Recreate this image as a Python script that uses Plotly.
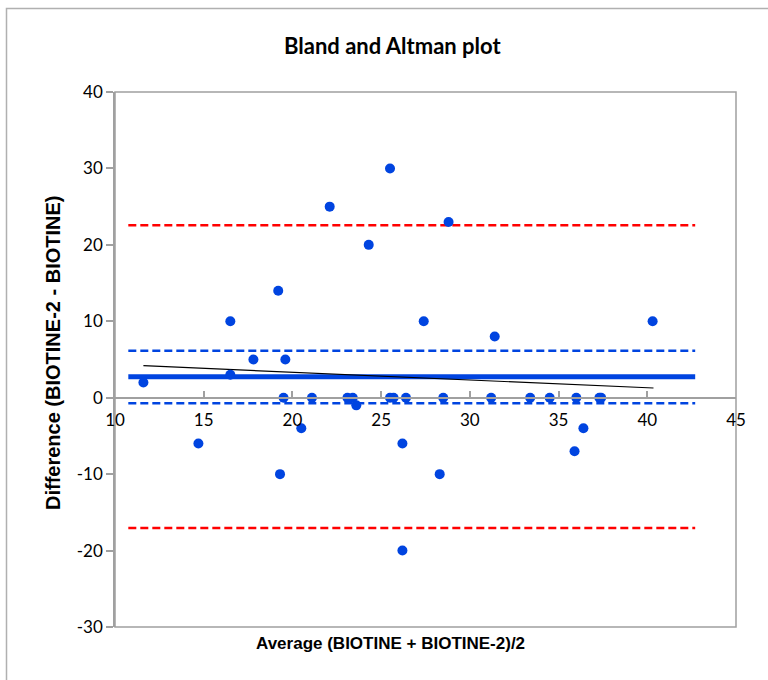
import plotly.graph_objects as go

# ---- data ----
avg_vals = [11.6, 14.7, 16.5, 16.5, 17.8, 19.2, 19.3, 19.5, 19.6, 20.5, 21.1, 22.1,
            23.1, 23.4, 23.6, 24.3, 25.5, 25.5, 25.7, 26.2, 26.2, 26.4, 27.4, 28.3,
            28.5, 28.8, 31.2, 31.4, 33.4, 34.5, 35.9, 36.0, 36.4, 37.3, 37.4, 40.3]
diff_vals = [2, -6, 10, 3, 5, 14, -10, 0, 5, -4, 0, 25,
             0, 0, -1, 20, 30, 0, 0, -6, -20, 0, 10, -10,
             0, 23, 0, 8, 0, 0, -7, 0, -4, 0, 0, 10]

line_x = [10.75, 42.7]          # extent of the horizontal reference lines
mean_diff = 2.75
ci_mean_upper = 6.15
ci_mean_lower = -0.73
loa_upper = 22.56
loa_lower = -17.05
trend_x = [11.6, 40.35]
trend_y = [4.19, 1.27]

y_ticks = [40, 30, 20, 10, 0, -10, -20, -30]
x_ticks = [10, 15, 20, 25, 30, 35, 40, 45]

BLUE = "#0044E0"
RED = "#FF0000"
GRAY = "#A0A0A0"

fig = go.Figure()

def hline(level, color, width, dash):
    fig.add_trace(go.Scatter(x=line_x, y=[level, level], mode="lines",
                             line=dict(color=color, width=width, dash=dash),
                             hoverinfo="skip", showlegend=False))

hline(loa_upper, RED, 2.5, "8px,4px")
hline(loa_lower, RED, 2.5, "8px,4px")
hline(ci_mean_upper, BLUE, 2.5, "8px,4px")
hline(ci_mean_lower, BLUE, 2.5, "8px,4px")
hline(mean_diff, BLUE, 5, "solid")

fig.add_trace(go.Scatter(x=trend_x, y=trend_y, mode="lines",
                         line=dict(color="black", width=1.2),
                         hoverinfo="skip", showlegend=False))

fig.add_trace(go.Scatter(x=avg_vals, y=diff_vals, mode="markers",
                         marker=dict(color=BLUE, size=10),
                         showlegend=False))

tick_font = dict(family="Lato, Carlito, Calibri, sans-serif", size=17, color="#000")

fig.update_layout(
    width=768, height=680,
    margin=dict(l=115, r=32, t=92, b=53),
    paper_bgcolor="white", plot_bgcolor="white",
    showlegend=False,
    xaxis=dict(range=[10, 45], tickvals=x_ticks, ticktext=[str(v) for v in x_ticks],
               showgrid=False, zeroline=False,
               showline=True, linecolor=GRAY, linewidth=1.5,
               ticks="inside", ticklen=6, tickcolor=GRAY, tickwidth=1.5,
               anchor="free", position=30 / 70,
               ticklabelstandoff=7,
               tickfont=tick_font),
    yaxis=dict(range=[-30, 40], tickvals=y_ticks, ticktext=[str(v) for v in y_ticks],
               showgrid=False, zeroline=False,
               showline=True, linecolor=GRAY, linewidth=1.5,
               ticks="outside", ticklen=7, tickcolor=GRAY, tickwidth=1.5,
               tickfont=tick_font),
    shapes=[
        dict(type="rect", xref="x domain", yref="y domain", x0=0, x1=1, y0=0, y1=1,
             line=dict(color=GRAY, width=1.5), layer="below"),
        dict(type="rect", xref="paper", yref="paper",
             x0=(6.5 - 115) / 621, x1=(800 - 115) / 621,
             y0=(627 - 720) / 535, y1=(627 - 8.5) / 535,
             line=dict(color="#B0B0B0", width=1.5)),
    ],
    annotations=[
        dict(text="<b>Bland and Altman plot</b>", xref="paper", yref="paper",
             x=(392 - 115) / 621, y=(627 - 45) / 535, xanchor="center", yanchor="middle",
             showarrow=False, font=dict(family="Lato, Carlito, Calibri, sans-serif", size=22, color="#000")),
        dict(text="<b>Average (BIOTINE + BIOTINE-2)/2</b>", xref="paper", yref="paper",
             x=(390 - 115) / 621, y=(627 - 643) / 535, xanchor="center", yanchor="middle",
             showarrow=False, font=dict(family="Liberation Sans, Arial, sans-serif", size=17, color="#000")),
        dict(text="<b>Difference (BIOTINE-2 - BIOTINE)</b>", xref="paper", yref="paper",
             x=(53 - 115) / 621, y=(627 - 353) / 535, xanchor="center", yanchor="middle",
             textangle=-90,
             showarrow=False, font=dict(family="Liberation Sans, Arial, sans-serif", size=20, color="#000")),
    ],
)

fig.write_html("out.html")
